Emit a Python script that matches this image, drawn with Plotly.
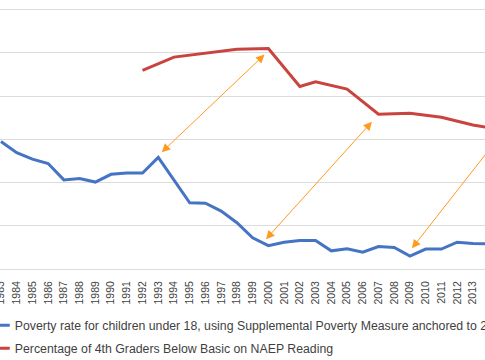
import plotly.graph_objects as go

# Data (y in gridline units, 10 per visible gridline)
years_poverty = list(range(1983, 2015))
poverty = [29.5, 26.9, 25.4, 24.4, 20.6, 20.9, 20.1, 21.9, 22.2, 22.2,
           25.8, 20.4, 15.3, 15.2, 13.4, 10.7, 7.2, 5.4, 6.2, 6.6,
           6.6, 4.2, 4.7, 3.9, 5.2, 5.0, 3.0, 4.6, 4.6, 6.2,
           5.9, 5.8]
years_naep = [1992, 1994, 1998, 2000, 2002, 2003, 2005, 2007, 2009, 2011, 2013, 2015]
naep = [45.9, 49.0, 50.8, 51.0, 42.2, 43.3, 41.6, 35.8, 36.0, 35.1, 33.3, 32.1]

name_poverty = "Poverty rate for children under 18, using Supplemental Poverty Measure anchored to 2012"
name_naep = "Percentage of 4th Graders Below Basic on NAEP Reading"

# Arrows linking the two series: (head_x, head_y, tail_x, tail_y)
arrows = [
    (1993.22, 27.0, 1999.85, 49.9),
    (1999.85, 6.9, 2006.67, 34.4),
    (2009.13, 4.8, 2014.92, 31.7),
]

BLUE = "#4674c4"
RED = "#c9433f"
ORANGE = "#ff9a1f"
GRID = "#dcdcdc"
TEXT = "#3f3f3f"
FONT = "Liberation Sans, Arial, sans-serif"

fig = go.Figure()
fig.add_trace(go.Scatter(x=years_poverty, y=poverty, mode="lines", name=name_poverty,
                         line=dict(color=BLUE, width=3), legendgroup="a"))
fig.add_trace(go.Scatter(x=years_naep, y=naep, mode="lines", name=name_naep,
                         line=dict(color=RED, width=3), legendgroup="b"))

for hx, hy, tx, ty in arrows:
    fig.add_annotation(x=hx, y=hy, ax=tx, ay=ty, xref="x", yref="y", axref="x", ayref="y",
                       text="", showarrow=True, arrowside="end+start",
                       arrowhead=2, startarrowhead=2, arrowsize=1.7, startarrowsize=1.7,
                       arrowwidth=1, arrowcolor=ORANGE, standoff=0, startstandoff=0)

fig.update_layout(
    width=485, height=360,
    margin=dict(l=0, r=0, t=0, b=91, pad=0, autoexpand=False),
    paper_bgcolor="white", plot_bgcolor="white",
    font=dict(family=FONT, color=TEXT),
    showlegend=True,
    legend=dict(orientation="v", x=-0.052, xanchor="left", y=-0.155, yanchor="top",
                font=dict(size=12.3, color=TEXT, family=FONT),
                traceorder="grouped", tracegroupgap=4, bgcolor="rgba(0,0,0,0)"),
    xaxis=dict(range=[1982.94, 2013.77], tickmode="linear", tick0=1983, dtick=1,
               tickangle=-90, showgrid=False, showline=True, linecolor=GRID, linewidth=1,
               ticks="", ticklabelstandoff=7, ticklabeloverflow="allow", zeroline=False,
               tickfont=dict(size=10.5, color=TEXT, family=FONT)),
    yaxis=dict(range=[0, 62.2], tickmode="linear", tick0=0, dtick=10, showgrid=True,
               gridcolor=GRID, gridwidth=1, zeroline=False, showticklabels=False, ticks=""),
)

fig.write_html("out.html", config={"displayModeBar": False},
               post_script="document.body.style.margin='0';document.body.style.overflow='hidden';")
